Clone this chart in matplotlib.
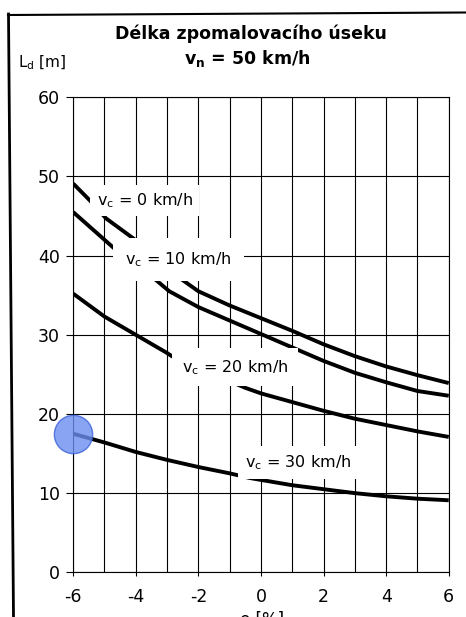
import matplotlib
matplotlib.use("Agg")
import matplotlib.pyplot as plt
from matplotlib.lines import Line2D

plt.rcParams["font.family"] = ["DejaVu Sans"]
plt.rcParams["axes.unicode_minus"] = False

# curves (x = slope e [%], y = L_d [m])
vc0_x = [-6, -5.45, -4.95, -3.95, -2.5, -2, -1, 0, 1, 2, 3, 4, 5, 6]
vc0_y = [49.1, 46.9, 44.7, 41.8, 36.9, 35.5, 33.7, 32.1, 30.5, 28.8, 27.3, 26.0, 24.9, 23.9]

vc10_x = [-6, -4.6, -3.47, -2.93, -2, -1, 0, 1, 2, 3, 4, 5, 6]
vc10_y = [45.5, 40.6, 37.3, 35.5, 33.5, 31.8, 30.1, 28.4, 26.7, 25.2, 24.0, 22.9, 22.3]

vc20_x = [-6, -5, -4, -3, -2.85, -0.5, 0, 1, 2, 3, 4, 5, 6]
vc20_y = [35.2, 32.3, 30.0, 27.7, 27.3, 23.3, 22.6, 21.5, 20.4, 19.4, 18.6, 17.8, 17.1]

vc30_x = [-6, -5, -4, -3, -2, -1, -0.34, 1, 2, 3, 4, 5, 6]
vc30_y = [17.5, 16.4, 15.2, 14.2, 13.3, 12.5, 11.9, 11.0, 10.5, 10.0, 9.6, 9.3, 9.1]

speeds = [0, 10, 20, 30]
label_x = [-5.25, -4.34, -2.52, -0.50]
label_y = [46.4, 38.9, 25.3, 13.3]
label_pad = [4.5, 9, 7, 5]

marker_x = [-6]
marker_y = [17.5]

fig = plt.figure(figsize=(4.66, 6.17), dpi=100)
ax = fig.add_axes([0.157, 0.0724, 0.806, 0.770])

# grid
ax.set_xlim(-6, 6)
ax.set_ylim(0, 60)
ax.set_xticks(range(-6, 7, 2))
ax.set_xticks(range(-6, 7), minor=True)
ax.set_yticks(range(0, 61, 10))
ax.set_axisbelow(True)
ax.grid(which="both", color="black", lw=0.8)
for s in ax.spines.values():
    s.set_linewidth(0.8)
ax.tick_params(axis="y", length=5, width=0.8, pad=4.5, labelsize=12.5)
ax.tick_params(axis="x", which="major", length=3, width=0.8, pad=8, labelsize=12.5)
ax.tick_params(axis="x", which="minor", length=0)

# curves
for xs, ys in [(vc0_x, vc0_y), (vc10_x, vc10_y), (vc20_x, vc20_y), (vc30_x, vc30_y)]:
    ax.plot(xs, ys, color="black", lw=2.8, solid_capstyle="butt",
            solid_joinstyle="round", zorder=3)

# labels sit on white patches that break the curves and grid
for v, lx, ly, p in zip(speeds, label_x, label_y, label_pad):
    ax.text(lx, ly, "v$_\\mathregular{c}$ = %d km/h" % v, ha="left", va="baseline",
            fontsize=11.5, zorder=4,
            bbox=dict(facecolor="white", edgecolor="none", pad=p))

# blue highlight
ax.scatter(marker_x, marker_y, s=760, color="#6b8ef0", edgecolors="#3b62d9",
           linewidths=1, alpha=0.8, zorder=6, clip_on=False)

# texts
fig.text(251 / 466, 1 - 39.3 / 617, "Délka zpomalovacího úseku", ha="center",
         va="baseline", fontsize=12.5, fontweight="bold")
fig.text(247.5 / 466, 1 - 64 / 617, "v$_\\mathregular{n}$ = 50 km/h", ha="center",
         va="baseline", fontsize=12.5, fontweight="bold")
fig.text(18 / 466, 1 - 67 / 617, "L$_\\mathregular{d}$ [m]", ha="left",
         va="baseline", fontsize=11)
fig.text(262 / 466, 1 - 611 / 617, "e [%]", ha="center", va="top", fontsize=12)

# scan frame
fig.add_artist(Line2D([8 / 466, 1], [1 - 15 / 617, 1 - 12.5 / 617], color="black",
                      lw=1.5, transform=fig.transFigure))
fig.add_artist(Line2D([8.5 / 466, 13.5 / 466], [1 - 14 / 617, 0], color="black",
                      lw=2, transform=fig.transFigure))

fig.savefig("out.png", dpi=100, facecolor="white")
